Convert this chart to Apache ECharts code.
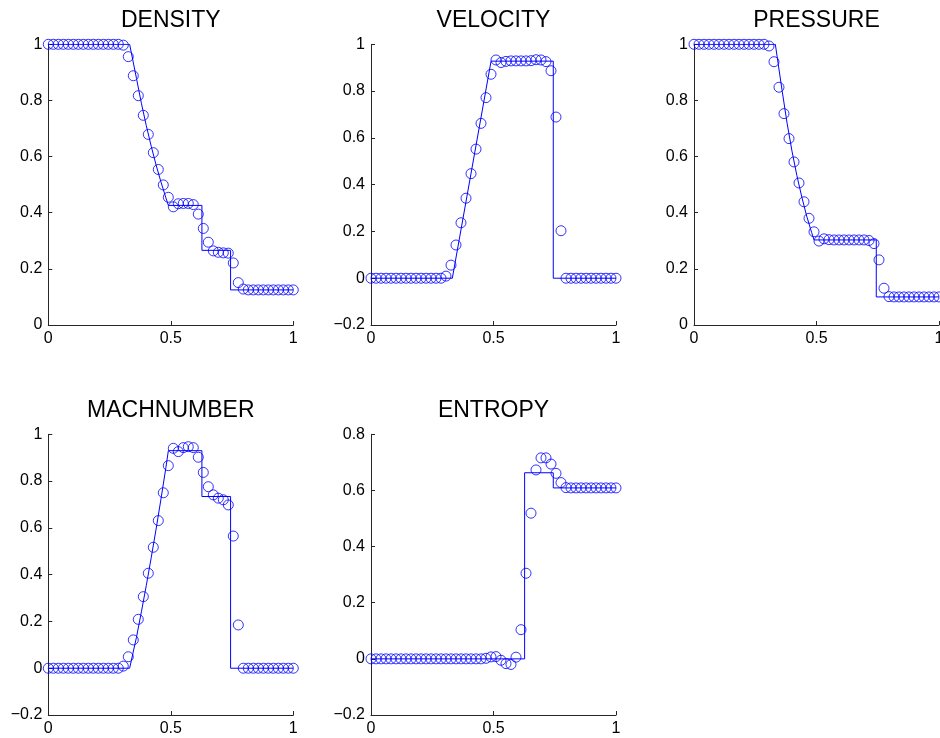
<!DOCTYPE html>
<html>
<head>
<meta charset="utf-8">
<script src="https://cdn.jsdelivr.net/npm/echarts@6/dist/echarts.min.js"></script>
<style>
  html, body { margin: 0; padding: 0; background: #ffffff; }
  #chart { width: 940px; height: 738px; }
</style>
</head>
<body>
<div id="chart"></div>
<script>
// Shock tube at t = 0.14: numerical samples (circles) and exact solution (line)

// cell positions of the 50 numerical samples
const xGrid = [0, 0.0204, 0.0408, 0.0612, 0.0816, 0.1020, 0.1224, 0.1429, 0.1633, 0.1837,
  0.2041, 0.2245, 0.2449, 0.2653, 0.2857, 0.3061, 0.3265, 0.3469, 0.3673, 0.3878,
  0.4082, 0.4286, 0.4490, 0.4694, 0.4898, 0.5102, 0.5306, 0.5510, 0.5714, 0.5918,
  0.6122, 0.6327, 0.6531, 0.6735, 0.6939, 0.7143, 0.7347, 0.7551, 0.7755, 0.7959,
  0.8163, 0.8367, 0.8571, 0.8776, 0.8980, 0.9184, 0.9388, 0.9592, 0.9796, 1];

const densitySamples = [1, 1, 1, 1, 1, 1, 1, 1, 1, 1, 1, 1, 1, 1, 1,
  0.997, 0.956, 0.888, 0.817, 0.747, 0.679, 0.614, 0.554, 0.499, 0.455,
  0.421, 0.432, 0.433, 0.433, 0.429, 0.395, 0.344, 0.295, 0.264, 0.259,
  0.257, 0.256, 0.221, 0.151, 0.128,
  0.125, 0.125, 0.125, 0.125, 0.125, 0.125, 0.125, 0.125, 0.125, 0.125];

const velocitySamples = [0, 0, 0, 0, 0, 0, 0, 0, 0, 0, 0, 0, 0, 0, 0,
  0.009, 0.056, 0.142, 0.237, 0.342, 0.447, 0.552, 0.662, 0.772, 0.872,
  0.933, 0.922, 0.927, 0.929, 0.929, 0.929, 0.929, 0.930, 0.934, 0.933,
  0.926, 0.887, 0.689, 0.203,
  0, 0, 0, 0, 0, 0, 0, 0, 0, 0, 0];

const pressureSamples = [1, 1, 1, 1, 1, 1, 1, 1, 1, 1, 1, 1, 1, 1, 1,
  0.994, 0.938, 0.847, 0.753, 0.664, 0.581, 0.506, 0.439, 0.380, 0.332,
  0.299, 0.307, 0.304, 0.303, 0.303, 0.303, 0.303, 0.303, 0.303, 0.303,
  0.301, 0.290, 0.232, 0.131, 0.101,
  0.1, 0.1, 0.1, 0.1, 0.1, 0.1, 0.1, 0.1, 0.1, 0.1];

const machSamples = [0, 0, 0, 0, 0, 0, 0, 0, 0, 0, 0, 0, 0, 0, 0,
  0.009, 0.049, 0.121, 0.209, 0.306, 0.406, 0.517, 0.631, 0.750, 0.866,
  0.940, 0.926, 0.943, 0.947, 0.943, 0.902, 0.837, 0.776, 0.741, 0.727,
  0.720, 0.698, 0.565, 0.185,
  0, 0, 0, 0, 0, 0, 0, 0, 0, 0, 0];

const entropySamples = [0, 0, 0, 0, 0, 0, 0, 0, 0, 0, 0, 0, 0, 0, 0, 0, 0, 0, 0, 0, 0, 0, 0,
  0.002, 0.007, 0.008, -0.005, -0.017, -0.020, 0.006, 0.104, 0.305, 0.519,
  0.673, 0.716, 0.716, 0.694, 0.661, 0.628, 0.610,
  0.609, 0.609, 0.609, 0.609, 0.609, 0.609, 0.609, 0.609, 0.609, 0.609];

// exact solution, as [x, value] breakpoints
const densityExact = [[0, 1], [0.332, 1], [0.36, 0.878], [0.38, 0.790], [0.40, 0.710],
  [0.42, 0.637], [0.44, 0.570], [0.46, 0.509], [0.48, 0.453], [0.49, 0.426],
  [0.627, 0.426], [0.627, 0.266], [0.744, 0.266], [0.744, 0.125], [1, 0.125]];

const velocityExact = [[0, 0], [0.332, 0], [0.49, 0.928], [0.744, 0.928], [0.744, 0], [1, 0]];

const pressureExact = [[0, 1], [0.332, 1], [0.36, 0.833], [0.38, 0.719], [0.40, 0.619],
  [0.42, 0.532], [0.44, 0.456], [0.46, 0.388], [0.48, 0.330], [0.49, 0.303],
  [0.744, 0.303], [0.744, 0.1], [1, 0.1]];

const machExact = [[0, 0], [0.332, 0], [0.36, 0.133], [0.38, 0.241], [0.40, 0.354],
  [0.42, 0.472], [0.44, 0.595], [0.46, 0.724], [0.48, 0.858], [0.49, 0.930],
  [0.627, 0.930], [0.627, 0.734], [0.744, 0.734], [0.744, 0], [1, 0]];

const entropyExact = [[0, 0], [0.627, 0], [0.627, 0.663], [0.744, 0.663], [0.744, 0.609], [1, 0.609]];

const titles = ['DENSITY', 'VELOCITY', 'PRESSURE', 'MACHNUMBER', 'ENTROPY'];
const yRanges = [[0, 1], [-0.2, 1], [0, 1], [-0.2, 1], [-0.2, 0.8]];
const xTicks = [0, 0.5, 1];

const samples = [densitySamples, velocitySamples, pressureSamples, machSamples, entropySamples];
const exacts = [densityExact, velocityExact, pressureExact, machExact, entropyExact];

// subplot frames (pixels)
const boxes = [
  { left: 48.3, top: 44.3 },
  { left: 371,  top: 44.3 },
  { left: 694,  top: 44.3 },
  { left: 48.3, top: 434.3 },
  { left: 371,  top: 434.3 }
];
const boxW = 245, boxH = 280.7;

const FONT = '"Liberation Sans", Arial, Helvetica, sans-serif';
const BLUE = '#0000ff';
const AXIS = '#262626';

const fmt = v => {
  const r = Math.round(v * 100) / 100;
  return String(r).replace('-', '\u2212');
};

const grids = [], xAxes = [], yAxes = [], series = [], graphics = [];

boxes.forEach((b, i) => {
  grids.push({
    left: b.left, top: b.top, width: boxW, height: boxH,
    containLabel: false, outerBoundsMode: 'none'
  });
  xAxes.push({
    type: 'value', gridIndex: i, min: xTicks[0], max: xTicks[xTicks.length - 1], interval: 0.5,
    axisLine: { show: true, onZero: false, lineStyle: { color: AXIS, width: 1 } },
    axisTick: { show: true, inside: true, length: 4, lineStyle: { color: AXIS } },
    axisLabel: { color: '#000', fontSize: 16, fontFamily: FONT, margin: 6, formatter: fmt,
      showMinLabel: true, showMaxLabel: true },
    splitLine: { show: false }
  });
  yAxes.push({
    type: 'value', gridIndex: i, min: yRanges[i][0], max: yRanges[i][1], interval: 0.2,
    axisLine: { show: true, onZero: false, lineStyle: { color: AXIS, width: 1 } },
    axisTick: { show: true, inside: true, length: 4, lineStyle: { color: AXIS } },
    axisLabel: { color: '#000', fontSize: 16, fontFamily: FONT, margin: 6, formatter: fmt,
      showMinLabel: true, showMaxLabel: true },
    splitLine: { show: false }
  });
  series.push({
    type: 'line', xAxisIndex: i, yAxisIndex: i,
    data: exacts[i], symbol: 'none', silent: true, animation: false,
    lineStyle: { color: BLUE, width: 1 }, z: 2
  });
  series.push({
    type: 'scatter', xAxisIndex: i, yAxisIndex: i,
    data: xGrid.map((x, k) => [x, samples[i][k]]),
    symbol: 'circle', symbolSize: 10, clip: false, silent: true, animation: false,
    itemStyle: { color: 'rgba(0,0,0,0)', borderColor: BLUE, borderWidth: 1 }, z: 3
  });
  graphics.push({
    type: 'text', x: b.left + boxW / 2, y: b.top - 24,
    style: {
      text: titles[i], fill: '#000', font: '23px ' + FONT,
      align: 'center', verticalAlign: 'middle', textAlign: 'center', textVerticalAlign: 'middle'
    }
  });
});

const chart = echarts.init(document.getElementById('chart'), null, { renderer: 'canvas' });
chart.setOption({
  backgroundColor: '#ffffff',
  animation: false,
  grid: grids,
  xAxis: xAxes,
  yAxis: yAxes,
  series: series,
  graphic: graphics
});
</script>
</body>
</html>
